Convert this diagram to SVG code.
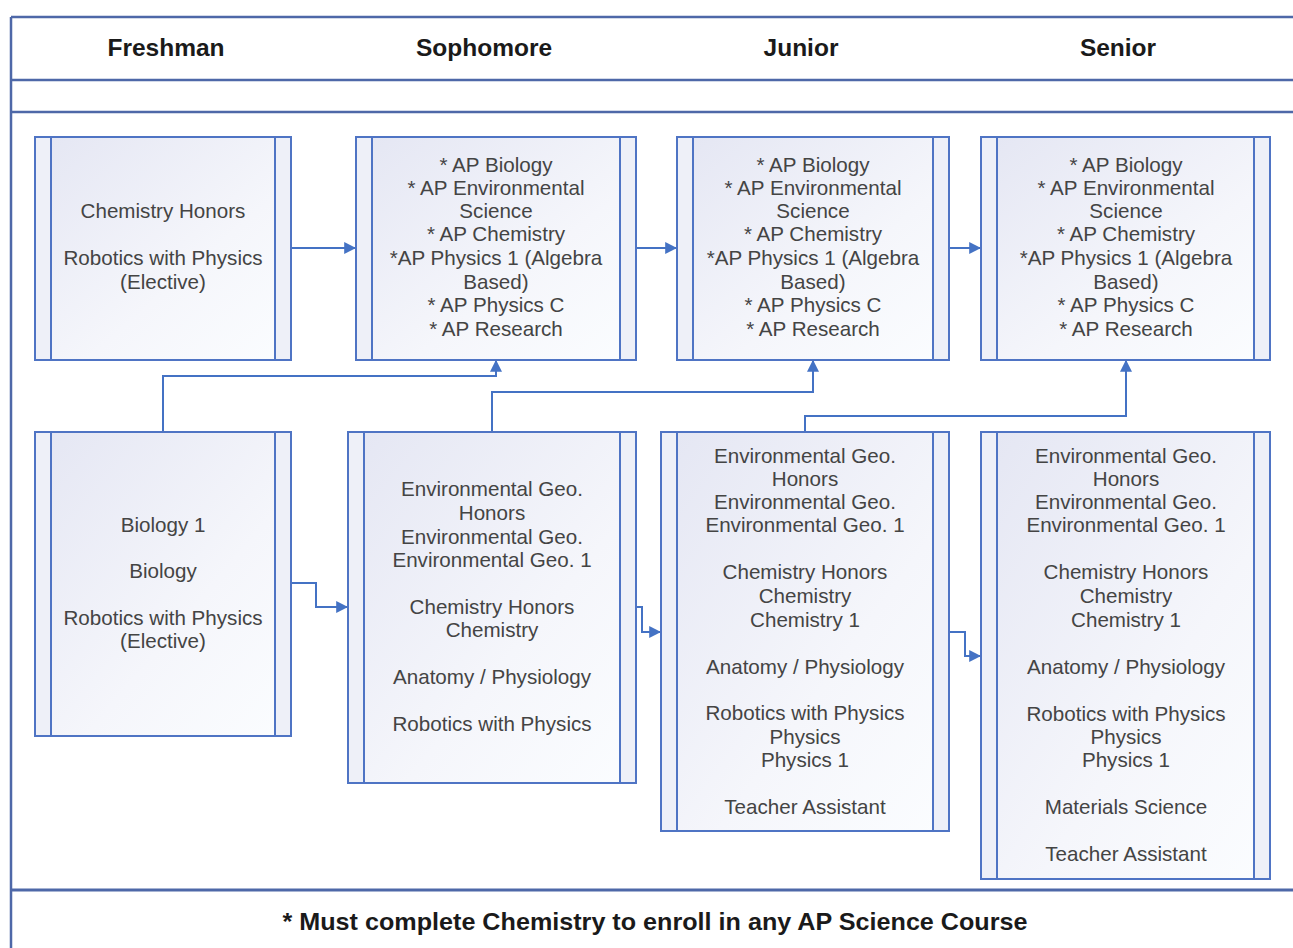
<svg xmlns="http://www.w3.org/2000/svg" width="1293" height="948" viewBox="0 0 1293 948">
<defs>
<linearGradient id="g" x1="0" y1="0" x2="1" y2="1">
<stop offset="0" stop-color="#e4e6f3"/>
<stop offset="0.6" stop-color="#f5f6fb"/>
<stop offset="1" stop-color="#fbfdff"/>
</linearGradient>
<marker id="arr" viewBox="0 0 10 10" refX="9" refY="5" markerWidth="6" markerHeight="6" orient="auto" markerUnits="strokeWidth">
<path d="M0,0 L10,5 L0,10 z" fill="#4472c4"/>
</marker>
<style>
.frame{stroke:#4e68a8;stroke-width:2.5;fill:none}
.box{fill:url(#g);stroke:#4f74c4;stroke-width:2}
.strip{fill:#eef0f8;stroke:#4f74c4;stroke-width:2}
.hdr{font-family:"Liberation Sans",Arial,sans-serif;font-weight:bold;font-size:24.5px;fill:#1a1a1a;text-anchor:middle}
.t{font-family:"Liberation Sans",Arial,sans-serif;font-size:20.6px;fill:#444;text-anchor:middle}
.con{stroke:#4472c4;stroke-width:2;fill:none}
.foot{font-family:"Liberation Sans",Arial,sans-serif;font-weight:bold;font-size:24px;fill:#1a1a1a;text-anchor:middle}
</style>
</defs>
<rect width="1293" height="948" fill="#ffffff"/>
<g id="frame">
<line class="frame" x1="11" y1="17" x2="1293" y2="17"/>
<line class="frame" x1="11" y1="17" x2="11" y2="948"/>
<line class="frame" x1="11" y1="80" x2="1293" y2="80"/>
<line class="frame" x1="11" y1="112" x2="1293" y2="112"/>
<line class="frame" x1="11" y1="890" x2="1293" y2="890" style="stroke-width:3"/>
</g>
<g id="headers">
<text class="hdr" x="166" y="56">Freshman</text>
<text class="hdr" x="484" y="56">Sophomore</text>
<text class="hdr" x="801" y="56">Junior</text>
<text class="hdr" x="1118" y="56">Senior</text>
</g>
<g id="connectors">
<line class="con" x1="291" y1="248" x2="355" y2="248" marker-end="url(#arr)"/>
<line class="con" x1="636" y1="248" x2="676" y2="248" marker-end="url(#arr)"/>
<line class="con" x1="949" y1="248" x2="980" y2="248" marker-end="url(#arr)"/>
<polyline class="con" points="163,432 163,376 496,376 496,361" marker-end="url(#arr)"/>
<polyline class="con" points="492,432 492,392 813,392 813,361" marker-end="url(#arr)"/>
<polyline class="con" points="805,432 805,416 1126,416 1126,361" marker-end="url(#arr)"/>
<polyline class="con" points="291,583 316,583 316,607 347,607" marker-end="url(#arr)"/>
<polyline class="con" points="636,607 642,607 642,632 660,632" marker-end="url(#arr)"/>
<polyline class="con" points="949,632 965,632 965,656 980,656" marker-end="url(#arr)"/>
</g>
<g id="fresh-top">
<rect class="box" x="35" y="137" width="256" height="223"/>
<rect class="strip" x="35" y="137" width="16" height="223"/>
<rect class="strip" x="275" y="137" width="16" height="223"/>
<text class="t" x="163" y="218">Chemistry Honors</text>
<text class="t" x="163" y="265">Robotics with Physics</text>
<text class="t" x="163" y="289">(Elective)</text>
</g>
<g id="soph-top">
<rect class="box" x="356" y="137" width="280" height="223"/>
<rect class="strip" x="356" y="137" width="16" height="223"/>
<rect class="strip" x="620" y="137" width="16" height="223"/>
<text class="t" x="496" y="172">* AP Biology</text>
<text class="t" x="496" y="195">* AP Environmental</text>
<text class="t" x="496" y="218">Science</text>
<text class="t" x="496" y="241">* AP Chemistry</text>
<text class="t" x="496" y="265">*AP Physics 1 (Algebra</text>
<text class="t" x="496" y="289">Based)</text>
<text class="t" x="496" y="312">* AP Physics C</text>
<text class="t" x="496" y="336">* AP Research</text>
</g>
<g id="junior-top">
<rect class="box" x="677" y="137" width="272" height="223"/>
<rect class="strip" x="677" y="137" width="16" height="223"/>
<rect class="strip" x="933" y="137" width="16" height="223"/>
<text class="t" x="813" y="172">* AP Biology</text>
<text class="t" x="813" y="195">* AP Environmental</text>
<text class="t" x="813" y="218">Science</text>
<text class="t" x="813" y="241">* AP Chemistry</text>
<text class="t" x="813" y="265">*AP Physics 1 (Algebra</text>
<text class="t" x="813" y="289">Based)</text>
<text class="t" x="813" y="312">* AP Physics C</text>
<text class="t" x="813" y="336">* AP Research</text>
</g>
<g id="senior-top">
<rect class="box" x="981" y="137" width="289" height="223"/>
<rect class="strip" x="981" y="137" width="16" height="223"/>
<rect class="strip" x="1254" y="137" width="16" height="223"/>
<text class="t" x="1126" y="172">* AP Biology</text>
<text class="t" x="1126" y="195">* AP Environmental</text>
<text class="t" x="1126" y="218">Science</text>
<text class="t" x="1126" y="241">* AP Chemistry</text>
<text class="t" x="1126" y="265">*AP Physics 1 (Algebra</text>
<text class="t" x="1126" y="289">Based)</text>
<text class="t" x="1126" y="312">* AP Physics C</text>
<text class="t" x="1126" y="336">* AP Research</text>
</g>
<g id="fresh-bottom">
<rect class="box" x="35" y="432" width="256" height="304"/>
<rect class="strip" x="35" y="432" width="16" height="304"/>
<rect class="strip" x="275" y="432" width="16" height="304"/>
<text class="t" x="163" y="532">Biology 1</text>
<text class="t" x="163" y="578">Biology</text>
<text class="t" x="163" y="625">Robotics with Physics</text>
<text class="t" x="163" y="648">(Elective)</text>
</g>
<g id="soph-bottom">
<rect class="box" x="348" y="432" width="288" height="351"/>
<rect class="strip" x="348" y="432" width="16" height="351"/>
<rect class="strip" x="620" y="432" width="16" height="351"/>
<text class="t" x="492" y="496">Environmental Geo.</text>
<text class="t" x="492" y="520">Honors</text>
<text class="t" x="492" y="544">Environmental Geo.</text>
<text class="t" x="492" y="567">Environmental Geo. 1</text>
<text class="t" x="492" y="614">Chemistry Honors</text>
<text class="t" x="492" y="637">Chemistry</text>
<text class="t" x="492" y="684">Anatomy / Physiology</text>
<text class="t" x="492" y="731">Robotics with Physics</text>
</g>
<g id="junior-bottom">
<rect class="box" x="661" y="432" width="288" height="399"/>
<rect class="strip" x="661" y="432" width="16" height="399"/>
<rect class="strip" x="933" y="432" width="16" height="399"/>
<text class="t" x="805" y="463">Environmental Geo.</text>
<text class="t" x="805" y="486">Honors</text>
<text class="t" x="805" y="509">Environmental Geo.</text>
<text class="t" x="805" y="532">Environmental Geo. 1</text>
<text class="t" x="805" y="579">Chemistry Honors</text>
<text class="t" x="805" y="603">Chemistry</text>
<text class="t" x="805" y="627">Chemistry 1</text>
<text class="t" x="805" y="674">Anatomy / Physiology</text>
<text class="t" x="805" y="720">Robotics with Physics</text>
<text class="t" x="805" y="744">Physics</text>
<text class="t" x="805" y="767">Physics 1</text>
<text class="t" x="805" y="814">Teacher Assistant</text>
</g>
<g id="senior-bottom">
<rect class="box" x="981" y="432" width="289" height="447"/>
<rect class="strip" x="981" y="432" width="16" height="447"/>
<rect class="strip" x="1254" y="432" width="16" height="447"/>
<text class="t" x="1126" y="463">Environmental Geo.</text>
<text class="t" x="1126" y="486">Honors</text>
<text class="t" x="1126" y="509">Environmental Geo.</text>
<text class="t" x="1126" y="532">Environmental Geo. 1</text>
<text class="t" x="1126" y="579">Chemistry Honors</text>
<text class="t" x="1126" y="603">Chemistry</text>
<text class="t" x="1126" y="627">Chemistry 1</text>
<text class="t" x="1126" y="674">Anatomy / Physiology</text>
<text class="t" x="1126" y="721">Robotics with Physics</text>
<text class="t" x="1126" y="744">Physics</text>
<text class="t" x="1126" y="767">Physics 1</text>
<text class="t" x="1126" y="814">Materials Science</text>
<text class="t" x="1126" y="861">Teacher Assistant</text>
</g>
<g id="footer">
<text class="foot" x="655" y="930" textLength="745" lengthAdjust="spacingAndGlyphs">* Must complete Chemistry to enroll in any AP Science Course</text>
</g>
</svg>
